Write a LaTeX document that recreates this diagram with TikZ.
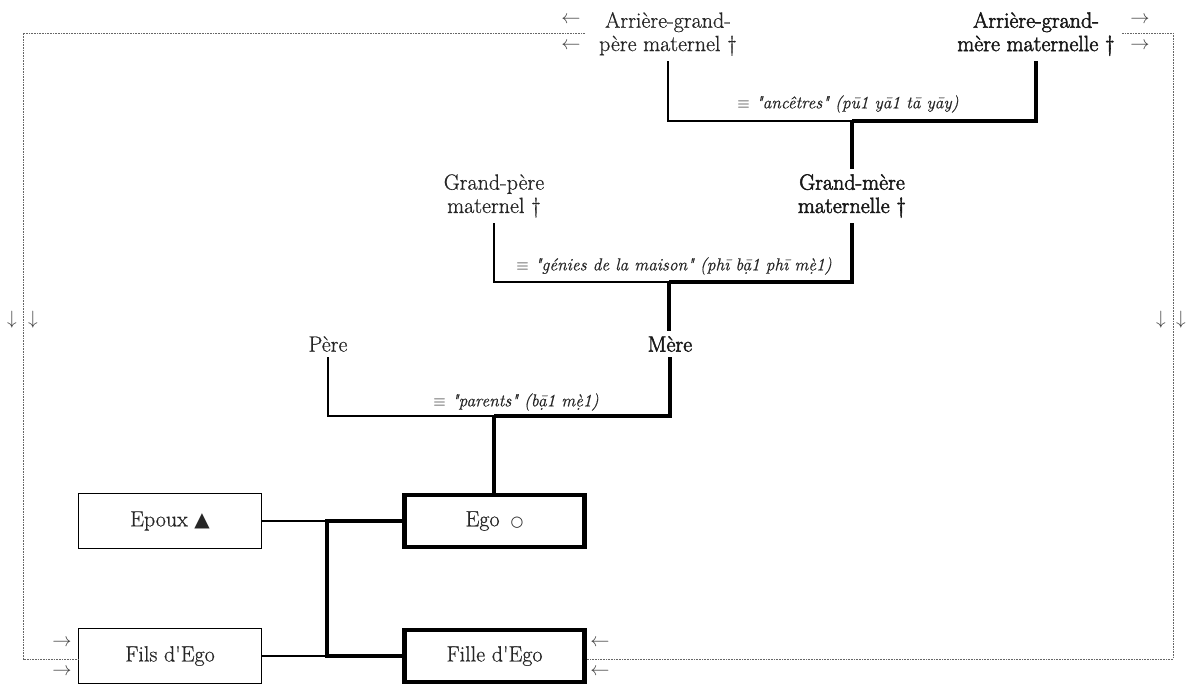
\documentclass[tikz,border=0pt]{standalone}
\usepackage{fontspec}
\setmainfont{Latin Modern Roman}[FakeBold=0.6]
\newfontfamily\symbfont{DejaVu Sans}
\newfontfamily\heavyfont[FakeBold=2.4]{Latin Modern Roman}
\begin{document}
\begin{tikzpicture}[x=0.75pt,y=-0.75pt,
    person/.style={align=center,text=black!85,inner sep=4pt,font=\fontsize{16.5}{17.5}\selectfont},
    bold person/.style={person,text=black!90,font=\fontsize{16.5}{17.5}\heavyfont},
    box/.style={draw,line width=1.2pt,minimum width=137pt,minimum height=41pt,inner sep=2pt,text=black!85,font=\fontsize{16.5}{17.5}\selectfont},
    ego box/.style={box,line width=3.2pt,minimum width=135pt,minimum height=39pt},
    thinline/.style={line width=1.2pt},
    thickline/.style={line width=3.6pt},
    term/.style={text=black!85,inner sep=1pt,font=\fontsize{13}{16}\selectfont\itshape},
    arr/.style={text=black!75,inner sep=0pt,font=\fontsize{15.6}{17.3}\selectfont},
    frame/.style={draw=black!60,line width=0.6pt,dash pattern=on 1.2pt off 0.8pt} ]
    \useasboundingbox (0,0) rectangle (1187,688);
    % ancestors
    \node at (668,34) [person] (agp) {Arrière-grand-\\père maternel \textdagger};
    \node at (1036,34) [bold person] (agm) {Arrière-grand-\\mère maternelle \textdagger};
    \node at (494,196) [person] (gp) {Grand-père\\maternel \textdagger};
    \node at (852,196) [bold person] (gm) {Grand-mère\\maternelle \textdagger};
    \node at (328,344) [person] (pere) {Père};
    \node at (670,344) [bold person] (mere) {Mère};
    \coordinate (anc) at (852,121);
    \coordinate (gen) at (669,282);
    \coordinate (par) at (494,416);
    \draw [thinline] (agp.south) |- (anc);
    \draw [thickline] (agm.south) |- (anc);
    \draw [thickline] (anc) -- (anc |- gm.north);
    \draw [thinline] (gp.south) |- (gen);
    \draw [thickline] (gm.south) |- (gen);
    \draw [thickline] (gen) -- (gen |- mere.north);
    \draw [thinline] (pere.south) |- (par);
    \draw [thickline] (mere.south) |- (par);
    \node at (848,104) [term] (tanc) {$\equiv$ \textquotedbl ancêtres\textquotedbl{} (pū1 yā1 tā yāy)};
    \node at (674,266) [term] (tgen) {$\equiv$ \textquotedbl génies de la maison\textquotedbl{} (phī bạ^^^^03041 phī mẹ^^^^03001)};
    \node at (516,402) [term] (tpar) {$\equiv$ \textquotedbl parents\textquotedbl{} (bạ^^^^03041 mẹ^^^^03001)};
    % Ego and siblings
    \node at (494.5,521) [ego box] (ego) {Ego\enspace{\symbfont\fontsize{11}{12}\selectfont ○}};
    \node at (170,521) [box] (epoux) {Epoux {\symbfont\fontsize{15}{16}\selectfont ▲}};
    \node at (170,656) [box] (fils) {Fils d\textquotesingle Ego};
    \node at (494.5,656) [ego box] (fille) {Fille d\textquotesingle Ego};
    \draw [thickline] (par) -- (par |- ego.north);
    \coordinate (s1) at (327,521);
    \coordinate (s2) at (327,656);
    \draw [thinline] (epoux) -- (s1);
    \draw [thinline] (fils) -- (s2);
    \draw [thickline] (ego.west) -- (s1) -- (s2) -- (fille.west);
    % the loop round the picture
    \coordinate (fr1) at (585,33);
    \coordinate (fr2) at (23,33);
    \coordinate (fr3) at (23,659);
    \coordinate (fr5) at (1122,33);
    \coordinate (fr6) at (1173,33);
    \coordinate (fr7) at (1173,659);
    \draw [frame] (fr1) -- (fr2) -- (fr3) -- (fr3 -| fils.west);
    \draw [frame] (fr5) -- (fr6) -- (fr7) -- (fr7 -| fille.east);
    \node at (571,20) [arr] (a1) {$\leftarrow$};
    \node at (571,46) [arr] (a2) {$\leftarrow$};
    \node at (1140,20) [arr] (a3) {$\rightarrow$};
    \node at (1140,46) [arr] (a4) {$\rightarrow$};
    \node at (12,320) [arr] (a5) {$\downarrow$};
    \node at (33,320) [arr] (a6) {$\downarrow$};
    \node at (1161,320) [arr] (a7) {$\downarrow$};
    \node at (1181,320) [arr] (a8) {$\downarrow$};
    \node at (62,643) [arr] (a9) {$\rightarrow$};
    \node at (62,672) [arr] (a10) {$\rightarrow$};
    \node at (600,643) [arr] (a11) {$\leftarrow$};
    \node at (600,672) [arr] (a12) {$\leftarrow$};
\end{tikzpicture}
\end{document}
